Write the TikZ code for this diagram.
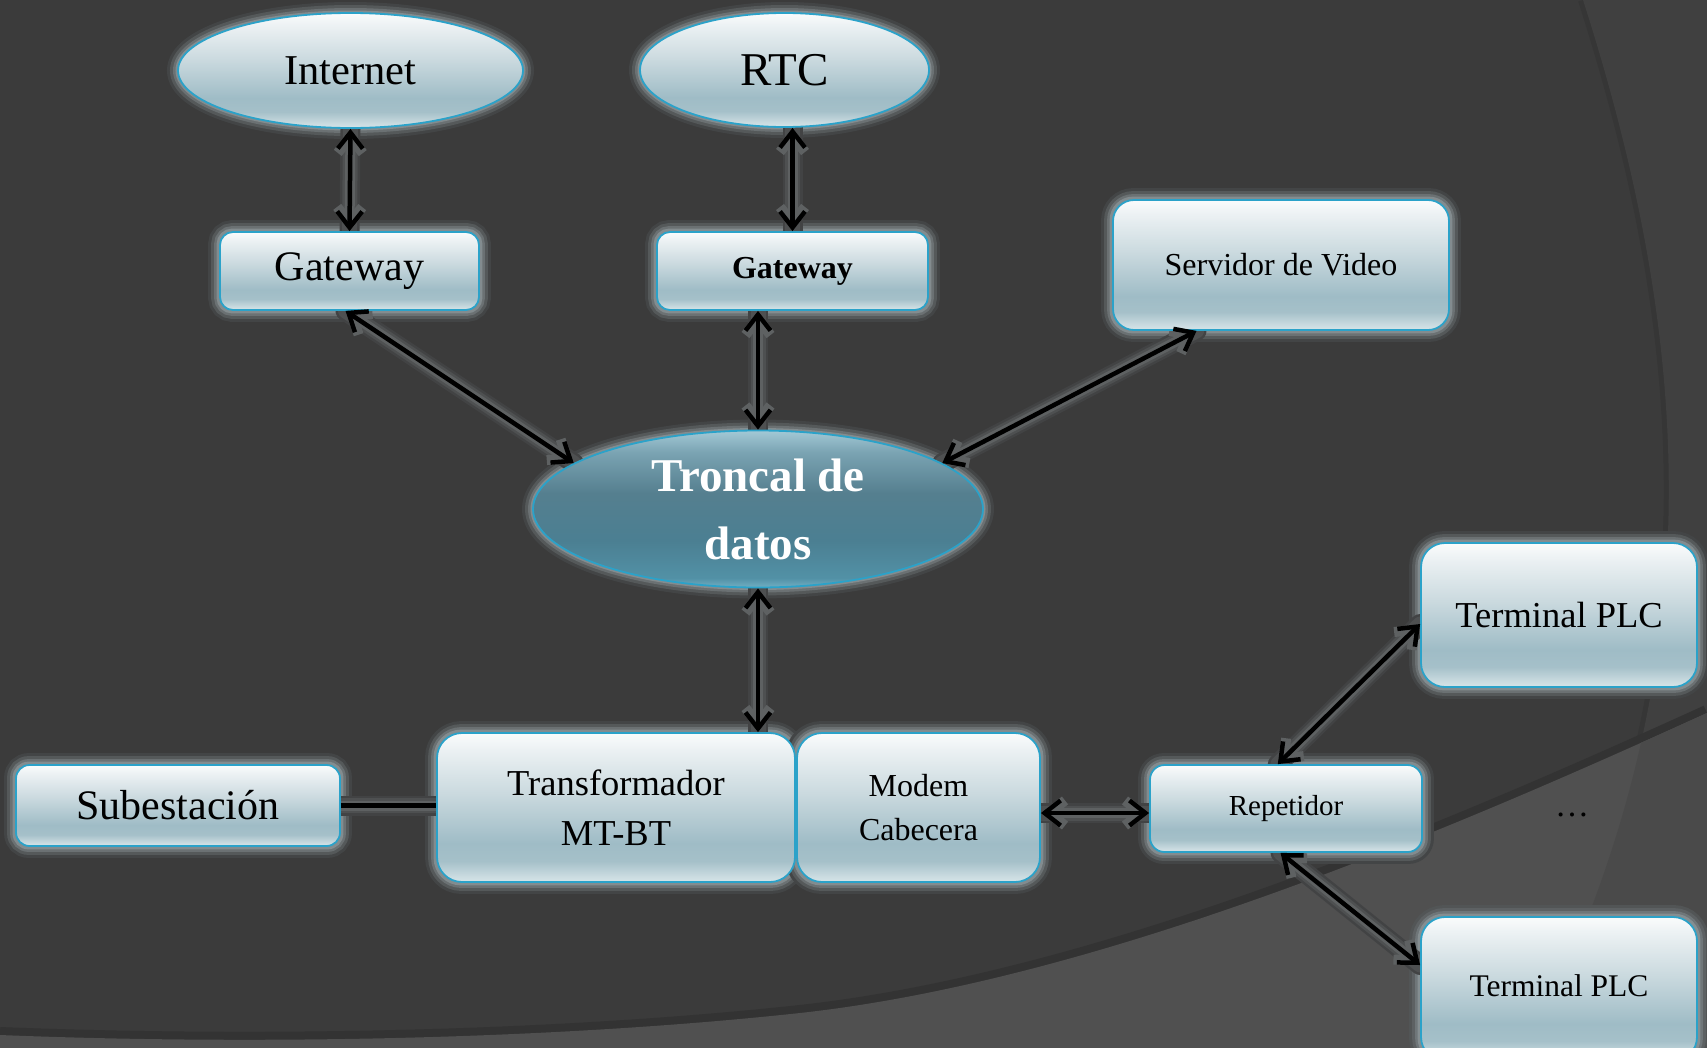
\documentclass[tikz,border=0pt]{standalone}
\usepackage{fontspec}
\setmainfont{Liberation Serif}
\usetikzlibrary{arrows.meta,shapes.geometric,calc}

\definecolor{bgdark}{HTML}{3B3B3B}
\definecolor{bgright}{HTML}{404040}
\definecolor{bglight}{HTML}{505050}
\definecolor{bglightr}{HTML}{4A4A4A}
\definecolor{shadowc}{HTML}{333333}
\definecolor{shadowd}{HTML}{363636}
\definecolor{bordc}{HTML}{2BA2C9}
\definecolor{gA}{HTML}{434546}
\definecolor{gB}{HTML}{55595A}
\definecolor{gC}{HTML}{6B7173}
\definecolor{gD}{HTML}{838C8F}
\definecolor{hA}{HTML}{525556}
\definecolor{hB}{HTML}{5D6163}
\definecolor{hC}{HTML}{6F7679}
\definecolor{hD}{HTML}{858E91}
\definecolor{cA}{HTML}{424344}
\definecolor{cB}{HTML}{4E5051}
\definecolor{cC}{HTML}{5E6162}
\definecolor{sA}{HTML}{FAFCFC}
\definecolor{sB}{HTML}{EDF2F4}
\definecolor{sC}{HTML}{CBDADF}
\definecolor{sD}{HTML}{9FBCC6}
\definecolor{sE}{HTML}{A5C0C9}
\definecolor{sF}{HTML}{CADBE0}
\definecolor{sG}{HTML}{D6E5E8}
\definecolor{tA}{HTML}{A3C9D6}
\definecolor{tB}{HTML}{7AA3B2}
\definecolor{tC}{HTML}{557F8F}
\definecolor{tD}{HTML}{4B7F92}
\definecolor{tE}{HTML}{5291A6}
\definecolor{tF}{HTML}{72AFC2}

\pgfdeclareverticalshading{boxshade}{100bp}{color(0bp)=(sG); color(25bp)=(sG); color(27bp)=(sF); color(32bp)=(sE); color(38bp)=(sD); color(55bp)=(sC); color(70bp)=(sB); color(75bp)=(sA); color(100bp)=(sA)}
\pgfdeclareverticalshading{trkshade}{100bp}{color(0bp)=(tF); color(25bp)=(tF); color(28bp)=(tE); color(40bp)=(tD); color(55bp)=(tC); color(68bp)=(tB); color(75bp)=(tA); color(100bp)=(tA)}

\pgfdeclarelayer{bgl}
\pgfdeclarelayer{glowl}
\pgfsetlayers{bgl,glowl,main}

\tikzset{
  box/.style={draw=bordc, line width=1.8pt, shade, shading=boxshade,
              inner sep=0pt, align=center, text=black},
  oval/.style={box, ellipse},
  tips/.style={<->, >={Straight Barb[length=16pt,width=25pt]}},
  conn/.style={draw=black, line width=4.5pt, tips},
  plain/.style={draw=black, line width=4.5pt},
  fs/.style={font=\fontsize{#1}{#1}\selectfont}
}

% glow round a rounded box: node, corner radius, colour prefix
\newcommand\glowrect[3][g]{%
  \begin{pgfonlayer}{glowl}
  \foreach \w/\c in {22/#1A,16/#1B,10/#1C,5/#1D}
    \draw[color=\c, line width=\w pt, rounded corners=#3] (#2.south west) rectangle (#2.north east);
  \end{pgfonlayer}}
% glow round an ellipse: node, x radius, y radius
\newcommand\glowell[3]{%
  \begin{pgfonlayer}{glowl}
  \foreach \w/\c in {22/gA,16/gB,10/gC,5/gD}
    \draw[color=\c, line width=\w pt] (#1.center) ellipse [x radius=#2, y radius=#3];
  \end{pgfonlayer}}
% connector with arrow tips and its halo
\newcommand\connect[2]{%
  \begin{pgfonlayer}{glowl}
  \draw[color=cA, line width=20pt, line cap=round] #1 -- #2;
  \draw[color=cB, line width=15pt, line cap=round] #1 -- #2;
  \draw[color=cC, line width=10pt, line cap=round, tips] #1 -- #2;
  \end{pgfonlayer}
  \draw[conn] #1 -- #2;}
% plain connector and its halo
\newcommand\link[2]{%
  \begin{pgfonlayer}{glowl}
  \draw[color=cA, line width=20pt] #1 -- #2;
  \draw[color=cB, line width=15pt] #1 -- #2;
  \draw[color=cC, line width=10pt] #1 -- #2;
  \end{pgfonlayer}
  \draw[plain] #1 -- #2;}

\begin{document}
\begin{tikzpicture}[x=1pt,y=-1pt]
\useasboundingbox (0,0) rectangle (1707,1047);
\clip (0,0) rectangle (1707,1047);

% background
\begin{pgfonlayer}{bgl}
\fill[bgdark] (-5,-5) rectangle (1712,1060);
\draw[shadowd,line width=10pt] (1583,0) .. controls (1705,380) and (1705,700) .. (1530,1047);
\fill[bgright] (1583,0) .. controls (1705,380) and (1705,700) .. (1530,1047) -- (1530,1060) -- (1712,1060) -- (1712,-5) -- (1583,-5) -- cycle;
\draw[shadowc,line width=16pt] (0,1035) .. controls (250,1045) and (550,1040) .. (800,1013) .. controls (1100,980) and (1450,830) .. (1707,713);
\fill[bglight] (-5,1035) -- (0,1035) .. controls (250,1045) and (550,1040) .. (800,1013) .. controls (1100,980) and (1450,830) .. (1707,713) -- (1712,710) -- (1712,1065) -- (-5,1065) -- cycle;
\begin{scope}
  \clip (0,1035) .. controls (250,1045) and (550,1040) .. (800,1013) .. controls (1100,980) and (1450,830) .. (1707,713) -- (1712,710) -- (1712,1065) -- (-5,1065) -- (-5,1035) -- cycle;
  \fill[bglightr] (1583,0) .. controls (1705,380) and (1705,700) .. (1530,1047) -- (1530,1065) -- (1712,1065) -- (1712,-5) -- cycle;
\end{scope}
\end{pgfonlayer}

% nodes
\node[oval, minimum width=345, minimum height=115, fs=42.5] (inet) at (350.5,70.5) {Internet};
\node[oval, minimum width=289, minimum height=114, fs=47] (rtc) at (784.5,70) {RTC};
\node[box, minimum width=259, minimum height=78, rounded corners=13, fs=42] (gw1) at (349.5,271) {Gateway};
\node[box, minimum width=271, minimum height=78, rounded corners=13, font=\bfseries\fontsize{32}{40}\selectfont] (gw2) at (792.5,271) {Gateway};
\node[box, minimum width=336, minimum height=130, rounded corners=21, fs=32] (srv) at (1281,265) {Servidor de Video};
\node[ellipse, draw=bordc, line width=1.8pt, shade, shading=trkshade, inner sep=-40pt,
      align=center, text=white, minimum width=450, minimum height=157,
      font=\bfseries\fontsize{47}{68}\selectfont] (trk) at (758,509) {Troncal de\\datos};
\node[box, minimum width=276, minimum height=144, rounded corners=24, fs=36.5] (t1) at (1559,615) {Terminal PLC};
\node[box, minimum width=324, minimum height=81, rounded corners=13.5, fs=42] (sub) at (178,805.5) {Subestación};
\node[box, minimum width=358, minimum height=149, rounded corners=25, font=\fontsize{36.5}{50}\selectfont] (tr) at (616,807.5) {Transformador\\MT-BT};
\node[box, minimum width=243, minimum height=149, rounded corners=25, font=\fontsize{32}{44}\selectfont] (mod) at (918.5,807.5) {Modem\\Cabecera};
\node[box, minimum width=272, minimum height=87, rounded corners=14.5, fs=29] (rep) at (1286,808.5) {Repetidor};
\node[box, minimum width=276, minimum height=144, rounded corners=24, fs=31.5] (t2) at (1559,989) {\raisebox{6pt}{Terminal PLC}};
\node[anchor=base, text=black, fs=34, inner sep=0pt] (dots) at (1572,816) {…};

% halos
\glowell{inet}{172.5}{57.5}
\glowell{rtc}{144.5}{57}
\glowell{trk}{225}{78.5}
\glowrect{gw1}{13}
\glowrect{gw2}{13}
\glowrect{srv}{21}
\glowrect{t1}{24}
\glowrect{sub}{13.5}
\glowrect{tr}{25}
\glowrect{mod}{25}
\glowrect{rep}{14.5}
\glowrect[h]{t2}{24}

% connectors
\connect{(inet.south)}{(gw1.north)}
\connect{(gw2.north |- rtc.south)}{(gw2.north)}
\connect{(trk.north |- gw2.south)}{(trk.north)}
\connect{([xshift=-4pt]gw1.south)}{(trk.166)}
\connect{(trk.14)}{($(srv.south west)!0.25!(srv.south east)$)}
\connect{(trk.south)}{(tr.north -| trk.south)}
\link{(sub.east)}{(sub.east -| tr.west)}
\connect{([yshift=-5.5pt]mod.east)}{([yshift=-5.5pt]mod.east -| rep.west)}
\connect{($(rep.north west)!0.47!(rep.north east)$)}{([yshift=-9pt]t1.west)}
\connect{($(rep.south west)!0.48!(rep.south east)$)}{([yshift=24pt]t2.west)}
\end{tikzpicture}
\end{document}
